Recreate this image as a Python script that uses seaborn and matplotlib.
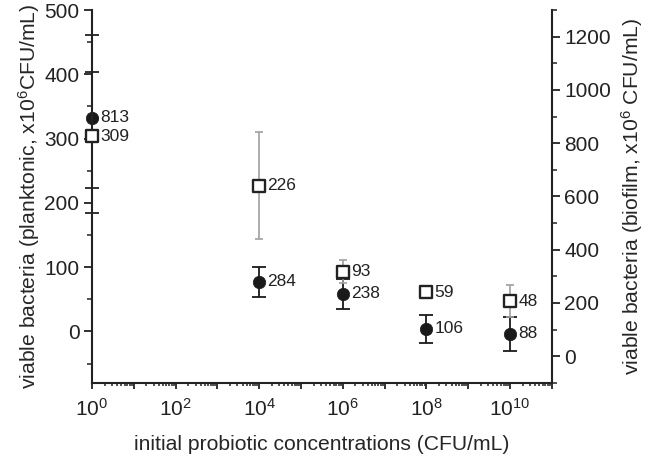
import numpy as np
import pandas as pd
import matplotlib
matplotlib.use("Agg")
import matplotlib.pyplot as plt
import matplotlib.ticker as mticker
import seaborn as sns

# initial probiotic concentration (CFU/mL)
conc = [1e0, 1e4, 1e6, 1e8, 1e10]

# planktonic counts (left axis), open squares
planktonic = [304, 227, 93, 61, 47]
planktonic_err = [0, 83, 18, 6, 25]
planktonic_labels = ["309", "226", "93", "59", "48"]

# biofilm counts (right axis), filled circles
biofilm = [896, 279, 234, 103, 84]
biofilm_err = [0, 56, 57, 52, 64]
biofilm_labels = ["813", "284", "238", "106", "88"]

df = pd.DataFrame({"conc": conc, "planktonic": planktonic, "pl_err": planktonic_err,
                   "biofilm": biofilm, "bf_err": biofilm_err})

sns.set_theme(style="ticks")
plt.rcParams["font.family"] = ["Liberation Sans", "DejaVu Sans"]
plt.rcParams["mathtext.fontset"] = "custom"
plt.rcParams["mathtext.rm"] = "Liberation Sans"
plt.rcParams["mathtext.it"] = "Liberation Sans:italic"
plt.rcParams["axes.linewidth"] = 1.5
plt.rcParams["text.color"] = "#222222"

fig, ax = plt.subplots(figsize=(6.5, 4.58), dpi=100)
fig.subplots_adjust(left=0.1415, right=0.849, bottom=0.164, top=0.978)
ax2 = ax.twinx()
ax.set_xscale("log")

# biofilm on the right axis
ax2.errorbar(df["conc"], df["biofilm"], yerr=df["bf_err"], fmt="none",
             ecolor="#1a1a1a", elinewidth=1.3, capsize=4.7, capthick=1.3, zorder=2)
sns.scatterplot(data=df, x="conc", y="biofilm", ax=ax2, marker="o", s=80,
                color="#1a1a1a", edgecolor="#1a1a1a", linewidth=0.5, zorder=3,
                legend=False, clip_on=False)

# planktonic on the left axis, drawn on top
ax.set_zorder(ax2.get_zorder() + 1)
ax.patch.set_visible(False)
ax.errorbar(df["conc"], df["planktonic"], yerr=df["pl_err"], fmt="none",
            ecolor="#a0a0a0", elinewidth=1.2, capsize=2.6, capthick=1.2, zorder=2)
sns.scatterplot(data=df, x="conc", y="planktonic", ax=ax, marker="s", s=84,
                facecolor="white", edgecolor="#222222", linewidth=1.7, zorder=3,
                legend=False, clip_on=False)

for x, y, t in zip(conc, planktonic, planktonic_labels):
    ax.annotate(t, (x, y), xytext=(6, 0), textcoords="offset points",
                ha="left", va="center", fontsize=12.5, color="#222222")
for x, y, t in zip(conc, biofilm, biofilm_labels):
    ax2.annotate(t, (x, y), xytext=(6, 0), textcoords="offset points",
                 ha="left", va="center", fontsize=12.5, color="#222222")

# x axis
ax.set_xlim(1, 1e11)
ax.xaxis.set_major_locator(mticker.LogLocator(base=10, numticks=20))
ax.xaxis.set_minor_locator(mticker.LogLocator(base=10, subs=np.arange(2, 10), numticks=20))
ax.xaxis.set_major_formatter(mticker.FuncFormatter(
    lambda v, p: r"$\mathregular{10^{%d}}$" % round(np.log10(v)) if round(np.log10(v)) % 2 == 0 else ""))
ax.xaxis.set_minor_formatter(mticker.NullFormatter())
ax.set_xlabel("initial probiotic concentrations (CFU/mL)", fontsize=15.2, labelpad=11)

# left axis
ax.set_ylim(-80, 500)
ax.set_yticks([0, 100, 200, 300, 400, 500])
ax.set_yticks([-50, 50, 150, 250, 350, 450], minor=True)
ax.set_ylabel("viable bacteria (planktonic, x10$^{6}$CFU/mL)", fontsize=15.2, labelpad=2)

# stray crossing ticks on left spine
sec = ax.secondary_yaxis("left")
sec.set_yticks([185, 223, 404, 461])
sec.set_yticklabels([])
sec.tick_params(direction="inout", length=10, width=1.3, color="#222222")
sec.spines["left"].set_visible(False)

# right axis
ax2.set_ylim(-100, 1300)
ax2.set_yticks([0, 200, 400, 600, 800, 1000, 1200])
ax2.set_yticks([-100, 100, 300, 500, 700, 900, 1100, 1300], minor=True)
ax2.set_ylabel("viable bacteria (biofilm, x10$^{6}$ CFU/mL)", fontsize=15.2, labelpad=6)

for a in (ax, ax2):
    a.tick_params(which="major", direction="out", length=6, width=1.3,
                  labelsize=15, colors="#222222", pad=3)
    a.tick_params(which="minor", direction="out", length=3.5, width=1.1, colors="#222222")
    a.spines["top"].set_visible(False)
    for s in a.spines.values():
        s.set_color("#222222")
ax.tick_params(axis="x", which="major", length=4.5, labelsize=15, pad=6)
ax.tick_params(axis="x", which="minor", length=2.5)
ax.spines["right"].set_visible(False)
ax2.spines["left"].set_visible(False)
ax2.spines["bottom"].set_visible(False)
ax2.set_xlabel("")

fig.savefig("out.png", dpi=100)
